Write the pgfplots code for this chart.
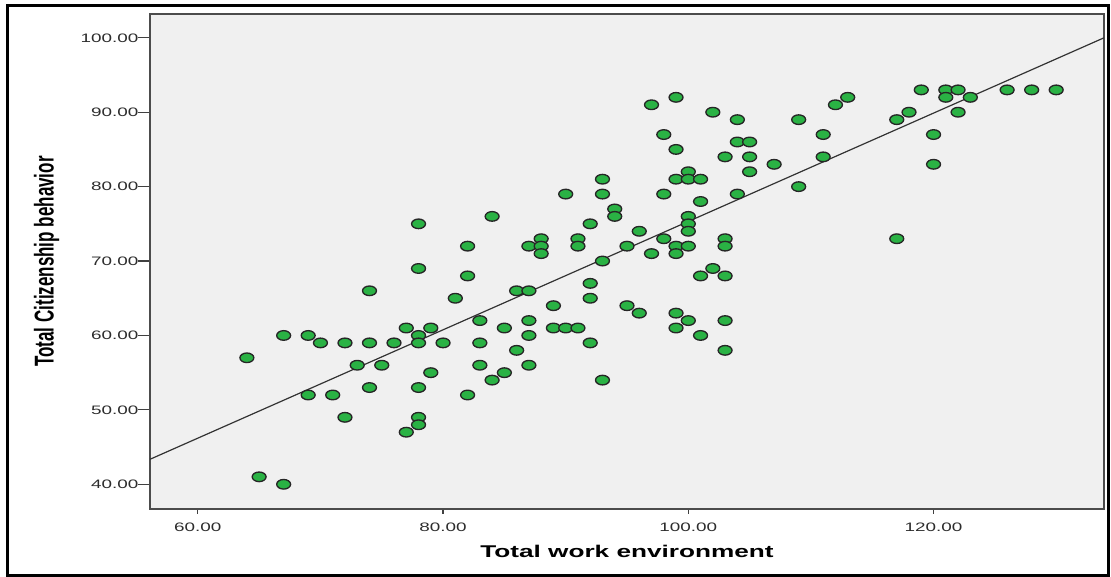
\documentclass[border=0pt]{standalone}
\usepackage{fontspec}
\setmainfont{Liberation Sans}
\usepackage{pgfplots}
\pgfplotsset{compat=1.18}
\definecolor{dotgreen}{RGB}{42,178,68}
\definecolor{bggray}{RGB}{240,240,240}
\definecolor{ticktext}{RGB}{45,45,45}

\begin{document}
\begin{tikzpicture}
% page is 1111x577 px, 1 px = 0.75pt
\useasboundingbox (0,0) rectangle (833.25pt,432.75pt);
\draw[line width=2.25pt] (5.6pt,0.75pt) rectangle (831.4pt,428.6pt);
\begin{axis}[
    at={(112.5pt,51pt)}, anchor=south west,
    scale only axis, width=715.5pt, height=371.25pt,
    xmin=56.1, xmax=133.9,
    ymin=36.68, ymax=103.2,
    axis background/.style={fill=bggray},
    axis line style={draw=black!70, line width=1pt},
    xtick={60,80,100,120},
    ytick={40,50,60,70,80,90,100},
    tick align=outside, tick pos=left,
    major tick length=6pt,
    xtick style={/pgfplots/major tick length=3.75pt},
    ytick style={/pgfplots/major tick length=9pt},
    tick style={black!75, line width=0.9pt},
    /pgf/number format/.cd, fixed, fixed zerofill, precision=2, assume math mode=true,
    /pgfplots/.cd,
    ticklabel style={font=\fontsize{9.2}{10}\selectfont, text=ticktext, xscale=1.54},
    xticklabel style={anchor=north, inner sep=0pt, yshift=-4pt},
    yticklabel style={anchor=east, inner sep=0pt, xshift=-1.5pt},
    xlabel={Total work environment},
    ylabel={Total Citizenship behavior},
    xlabel style={at={(axis description cs:0.5,-0.0976)}, anchor=base,
        font=\bfseries\fontsize{12.75}{14}\selectfont, xscale=1.54},
    ylabel style={at={(axis description cs:-0.1083,0.5)}, anchor=center,
        font=\bfseries\fontsize{12.75}{14}\selectfont, yscale=1.6},
]
\addplot[only marks, mark=*, mark size=3.6pt,
    mark options={xscale=1.45, fill=dotgreen, draw=black!85, line width=1pt}]
coordinates {
(64,57)(65,41)(67,40)(67,60)(69,60)(69,52)(70,59)(71,52)(72,59)(72,49)
(73,56)(74,66)(74,59)(74,53)(75,56)(76,59)(77,61)(77,47)(78,75)(78,69)
(78,60)(78,59)(78,53)(78,49)(78,48)(79,61)(79,55)(80,59)(81,65)(82,72)
(82,68)(82,52)(83,62)(83,59)(83,56)(84,76)(84,54)(85,61)(85,55)(86,66)
(86,58)(87,72)(87,66)(87,62)(87,60)(87,56)(88,73)(88,72)(88,71)(89,64)
(89,61)(90,79)(90,61)(91,73)(91,72)(91,61)(92,75)(92,67)(92,65)(92,59)
(93,81)(93,79)(93,70)(93,54)(94,77)(94,76)(95,72)(95,64)(96,74)(96,63)
(97,91)(97,71)(98,87)(98,79)(98,73)(99,92)(99,85)(99,81)(99,72)(99,71)
(99,63)(99,61)(100,82)(100,81)(100,76)(100,75)(100,74)(100,72)(100,62)
(101,81)(101,78)(101,68)(101,60)(102,90)(102,69)(103,84)(103,73)(103,72)
(103,68)(103,62)(103,58)(104,89)(104,86)(104,79)(105,86)(105,84)(105,82)
(107,83)(109,89)(109,80)(111,87)(111,84)(112,91)(113,92)(117,89)(117,73)
(118,90)(119,93)(120,87)(120,83)(121,93)(121,92)(122,93)(122,90)(123,92)
(126,93)(128,93)(130,93)
};
% fit line
\addplot[black!80, line width=0.9pt] coordinates {(56.1,43.36) (133.9,100)};
\end{axis}
\end{tikzpicture}
\end{document}
